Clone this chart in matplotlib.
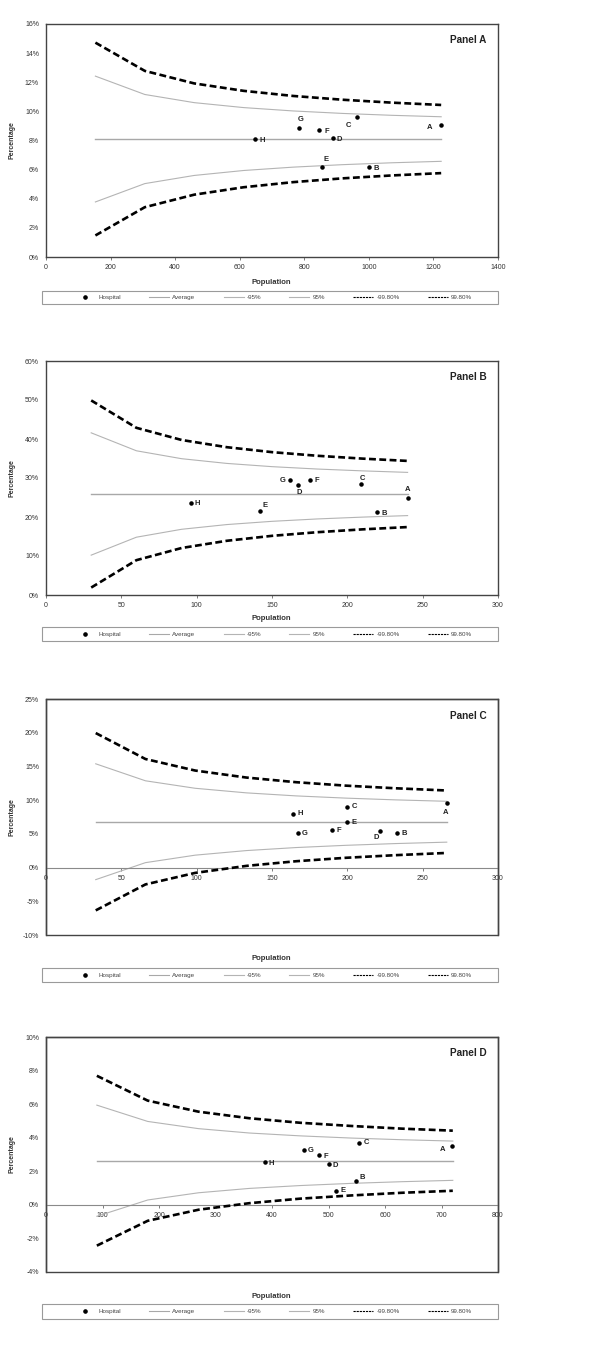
import numpy as np
import matplotlib
matplotlib.use("Agg")
import matplotlib.pyplot as plt
from matplotlib.lines import Line2D
from matplotlib.patches import Rectangle
from matplotlib.ticker import FuncFormatter, MultipleLocator

plt.rcParams['font.family'] = ['Liberation Sans', 'DejaVu Sans']

# ---- data (percent) ----
letters = ['A', 'B', 'C', 'D', 'E', 'F', 'G', 'H']

# Panel A
popA = [153, 306, 459, 612, 765, 918, 1071, 1224]
avgA = 8.1
up95A = [12.42, 11.16, 10.60, 10.26, 10.03, 9.86, 9.73, 9.63]
lo95A = [3.78, 5.04, 5.60, 5.94, 6.17, 6.34, 6.47, 6.57]
up998A = [14.72, 12.78, 11.92, 11.41, 11.06, 10.80, 10.60, 10.44]
lo998A = [1.48, 3.42, 4.28, 4.79, 5.14, 5.40, 5.60, 5.76]
hospxA = [1223, 1000, 963, 888, 856, 847, 785, 647]
hospyA = [9.05, 6.15, 9.62, 8.14, 6.19, 8.73, 8.89, 8.09]

# Panel B
popB = [30, 60, 90, 120, 150, 180, 210, 240]
avgB = 25.9
up95B = [41.58, 36.98, 34.95, 33.74, 32.91, 32.30, 31.83, 31.44]
lo95B = [10.22, 14.82, 16.85, 18.06, 18.89, 19.50, 19.97, 20.36]
up998B = [49.89, 42.87, 39.75, 37.90, 36.63, 35.70, 34.97, 34.38]
lo998B = [1.91, 8.93, 12.05, 13.90, 15.17, 16.10, 16.83, 17.42]
hospxB = [240, 220, 209, 167, 142, 175, 162, 96]
hospyB = [25.0, 21.3, 28.5, 28.3, 21.6, 29.4, 29.4, 23.7]

# Panel C
popC = [33, 66, 99, 133, 166, 199, 232, 266]
avgC = 6.8
up95C = [15.39, 12.87, 11.76, 11.08, 10.63, 10.30, 10.04, 9.83]
lo95C = [-1.79, 0.73, 1.84, 2.52, 2.97, 3.30, 3.56, 3.77]
up998C = [19.95, 16.10, 14.39, 13.35, 12.66, 12.15, 11.76, 11.43]
lo998C = [-6.35, -2.50, -0.79, 0.25, 0.94, 1.45, 1.84, 2.17]
hospxC = [266, 233, 200, 222, 200, 190, 167, 164]
hospyC = [9.6, 5.06, 9.0, 5.45, 6.69, 5.5, 5.06, 7.97]

# Panel D
popD = [90, 180, 270, 360, 450, 540, 630, 720]
avgD = 2.63
up95D = [5.94, 4.97, 4.54, 4.28, 4.11, 3.98, 3.88, 3.80]
lo95D = [-0.68, 0.29, 0.72, 0.98, 1.15, 1.28, 1.38, 1.46]
up998D = [7.69, 6.21, 5.55, 5.16, 4.89, 4.70, 4.54, 4.42]
lo998D = [-2.43, -0.95, -0.29, 0.10, 0.37, 0.56, 0.72, 0.84]
hospxD = [719, 548, 554, 500, 514, 483, 456, 387]
hospyD = [3.53, 1.40, 3.71, 2.41, 0.85, 2.97, 3.25, 2.55]

legend_labels = ['Hospital', 'Average', '-95%', '95%', '-99.80%', '99.80%']

# label offsets (points) for each hospital letter
offA = {'A': (-8, -2), 'B': (5, -1), 'C': (-6, -6), 'D': (5, -1), 'E': (3, 5),
        'F': (5, -1), 'G': (1, 6), 'H': (5, -1)}
offB = {'A': (0, 6), 'B': (5, -1), 'C': (1, 4), 'D': (1, -6), 'E': (4, 4),
        'F': (5, 0), 'G': (-5, 0), 'H': (5, -1)}
offC = {'A': (-1, -7), 'B': (5, 0), 'C': (5, 0), 'D': (-3, -5), 'E': (5, 0),
        'F': (5, 0), 'G': (5, 0), 'H': (5, 0)}
offD = {'A': (-7, -3), 'B': (5, 3), 'C': (5, 0), 'D': (5, -1), 'E': (5, 0),
        'F': (5, -1), 'G': (5, 0), 'H': (5, -1)}

panels = [
    dict(name='Panel A', pop=popA, avg=avgA, up95=up95A, lo95=lo95A, up998=up998A, lo998=lo998A,
         hx=hospxA, hy=hospyA, off=offA, xlim=(0, 1400), xstep=200, ylim=(0, 16), ystep=2,
         rect=(46, 24, 498, 257), leg=(42, 291, 498, 304), xlab=282, zero=False),
    dict(name='Panel B', pop=popB, avg=avgB, up95=up95B, lo95=lo95B, up998=up998B, lo998=lo998B,
         hx=hospxB, hy=hospyB, off=offB, xlim=(0, 300), xstep=50, ylim=(0, 60), ystep=10,
         rect=(46, 361, 498, 595), leg=(42, 627, 498, 641), xlab=618, zero=False),
    dict(name='Panel C', pop=popC, avg=avgC, up95=up95C, lo95=lo95C, up998=up998C, lo998=lo998C,
         hx=hospxC, hy=hospyC, off=offC, xlim=(0, 300), xstep=50, ylim=(-10, 25), ystep=5,
         rect=(46, 699, 498, 935), leg=(42, 968, 498, 982), xlab=959, zero=True),
    dict(name='Panel D', pop=popD, avg=avgD, up95=up95D, lo95=lo95D, up998=up998D, lo998=lo998D,
         hx=hospxD, hy=hospyD, off=offD, xlim=(0, 800), xstep=100, ylim=(-4, 10), ystep=2,
         rect=(46, 1037, 498, 1272), leg=(42, 1304, 498, 1319), xlab=1296, zero=True),
]

W, H = 602, 1345
fig = plt.figure(figsize=(W / 100, H / 100), dpi=100)

spine_col = '#444444'
avg_col = '#a8a8a8'
ci_col = '#b4b4b4'
dash = (0, (2.6, 1.3))

for p in panels:
    x0, y0, x1, y1 = p['rect']
    ax = fig.add_axes([x0 / W, 1 - y1 / H, (x1 - x0) / W, (y1 - y0) / H])
    pop = p['pop']
    ax.plot(pop, [p['avg']] * len(pop), color=avg_col, lw=1.0, zorder=2)
    ax.plot(pop, p['lo95'], color=ci_col, lw=0.8, zorder=2)
    ax.plot(pop, p['up95'], color=ci_col, lw=0.8, zorder=2)
    ax.plot(pop, p['lo998'], color='black', lw=1.9, ls=dash, zorder=3)
    ax.plot(pop, p['up998'], color='black', lw=1.9, ls=dash, zorder=3)
    ax.scatter(p['hx'], p['hy'], s=5, color='black', zorder=4)
    for lt, hx, hy in zip(letters, p['hx'], p['hy']):
        dx, dy = p['off'][lt]
        ax.annotate(lt, (hx, hy), xytext=(dx, dy), textcoords='offset points',
                    ha='center', va='center', fontsize=5.5, fontweight='bold',
                    color='#222222')

    ax.set_xlim(*p['xlim'])
    ax.set_ylim(*p['ylim'])
    ax.xaxis.set_major_locator(MultipleLocator(p['xstep']))
    ax.yaxis.set_major_locator(MultipleLocator(p['ystep']))
    ax.yaxis.set_major_formatter(FuncFormatter(lambda v, pos: f"{v:.0f}%"))
    ax.tick_params(axis='y', length=0, pad=5, labelsize=5, labelcolor='#333333')
    ax.tick_params(axis='x', length=2, pad=3, labelsize=5, labelcolor='#333333',
                   color='#666666', width=0.6)
    for s in ax.spines.values():
        s.set_color(spine_col)
        s.set_linewidth(1.0)
    if p['zero']:
        ax.spines['bottom'].set_position(('data', 0))
        ax.spines['bottom'].set_color('#8a8a8a')
        ax.spines['bottom'].set_linewidth(0.8)
        ax.add_patch(Rectangle((0, 0), 1, 1, transform=ax.transAxes, fill=False,
                               edgecolor=spine_col, lw=1.0, zorder=5, clip_on=False))

    ax.text(0.975, 0.93, p['name'], transform=ax.transAxes, ha='right', va='center',
            fontsize=7.2, fontweight='bold', color='#222222')
    ax.set_ylabel('Percentage', fontsize=5, fontweight='bold', color='#333333')
    ax.yaxis.set_label_coords(-0.068, 0.5)
    fig.text(271 / W, 1 - p['xlab'] / H, 'Population', ha='center', va='center',
             fontsize=5.5, fontweight='bold', color='#333333')

    # legend box under each panel
    lx0, ly0, lx1, ly1 = p['leg']
    fig.patches.append(Rectangle((lx0 / W, 1 - ly1 / H), (lx1 - lx0) / W, (ly1 - ly0) / H,
                                 transform=fig.transFigure, fill=False,
                                 edgecolor='#9a9a9a', lw=0.8))
    handles = [
        Line2D([], [], ls='none', marker='o', ms=2.3, color='black'),
        Line2D([], [], color=avg_col, lw=0.8),
        Line2D([], [], color=ci_col, lw=0.8),
        Line2D([], [], color=ci_col, lw=0.8),
        Line2D([], [], color='black', lw=0.8, ls=(0, (2.0, 0.8))),
        Line2D([], [], color='black', lw=0.8, ls=(0, (2.0, 0.8))),
    ]
    leg = fig.legend(handles, legend_labels, ncol=6, loc='center',
                     bbox_to_anchor=((lx0 + lx1) / 2 / W + 0.006, 1 - (ly0 + ly1) / 2 / H),
                     fontsize=4.5, frameon=False, handlelength=3.2, handletextpad=0.5,
                     columnspacing=4.5, borderaxespad=0, borderpad=0)
    for t in leg.get_texts():
        t.set_color('#444444')

fig.savefig('out.png', dpi=100, facecolor='white')
